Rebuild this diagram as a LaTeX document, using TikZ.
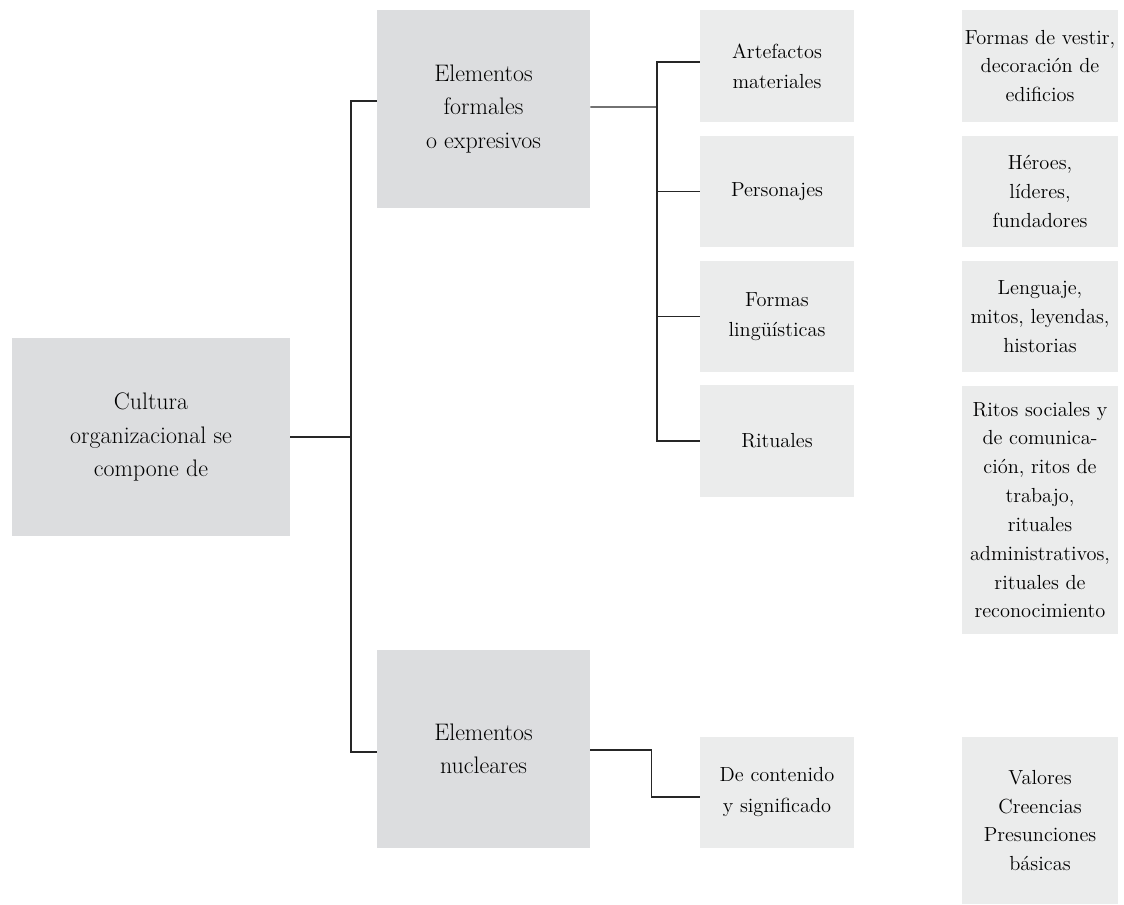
\documentclass[tikz,border=0pt]{standalone}

\definecolor{boxdark}{HTML}{DCDDDF}
\definecolor{boxlight}{HTML}{EBECEC}

\tikzset{
  bigbox/.style={fill=boxdark, align=center, inner sep=2pt,
    font=\fontsize{17}{23.5}\selectfont},
  midbox/.style={fill=boxlight, align=center, inner sep=2pt,
    minimum width=3.85cm, minimum height=2.775cm,
    font=\fontsize{14.5}{21.5}\selectfont},
  sidebox/.style={fill=boxlight, align=center, inner sep=1pt,
    minimum width=3.9cm, font=\fontsize{14.5}{20.5}\selectfont},
  link/.style={draw=black!85, line width=1pt}
}

\begin{document}
\begin{tikzpicture}[x=0.025cm, y=-0.025cm]
      \useasboundingbox (0,0) rectangle (1124,904);
      % main boxes
      \node[bigbox, minimum width=6.95cm, minimum height=4.95cm] (cultura) at (151,437)
        {Cultura\\organizacional se\\compone de};
      \node[bigbox, minimum width=5.325cm, minimum height=4.95cm] (formal) at (483.5,109)
        {Elementos\\formales\\o expresivos};
      \node[bigbox, minimum width=5.325cm, minimum height=4.95cm] (nuclear) at (483.5,749)
        {Elementos\\nucleares};
      % middle column
      \node[midbox] (artefactos) at (777,66) {Artefactos\\materiales};
      \node[midbox] (personajes) at (777,191.5) {Personajes};
      \node[midbox] (formas) at (777,316.5) {Formas\\lingüísticas};
      \node[midbox] (rituales) at (777,441) {Rituales};
      \node[midbox] (contenido) at (777,792) {De contenido\\y significado};
      % right column
      \node[sidebox, minimum height=2.8cm] (vestir) at (1040,66)
        {Formas de vestir,\\decoración de\\edificios};
      \node[sidebox, minimum height=2.775cm] (heroes) at (1040,191.5)
        {Héroes,\\líderes,\\fundadores};
      \node[sidebox, minimum height=2.775cm] (lenguaje) at (1040,316.5)
        {Lenguaje,\\mitos, leyendas,\\historias};
      \node[sidebox, minimum height=6.2cm] (ritos) at (1040,510)
        {Ritos sociales y\\de comunica-\\ción, ritos de\\trabajo,\\rituales\\administrativos,\\rituales de\\reconocimiento};
      \node[sidebox, minimum height=4.175cm] (valores) at (1040,820.5)
        {Valores\\Creencias\\Presunciones\\básicas};
      % connectors
      \coordinate (j1) at (351,437);
      \coordinate (j2) at (657,107);
      \begin{scope}[link]
        \draw (cultura.east) -- (j1);
        \draw ([yshift=0.2cm]formal.west) -| (j1) |- ([yshift=-0.075cm]nuclear.west);
        \draw ([yshift=0.05cm]formal.east) -- (j2);
        \draw ([yshift=0.1cm]artefactos.west) -| (j2) |- (rituales.west);
        \draw (personajes.west) -- (personajes.west -| j2);
        \draw (formas.west) -- (formas.west -| j2);
        \draw ([yshift=-0.025cm]nuclear.east) -- ++(61,0) |- ([yshift=-0.125cm]contenido.west);
      \end{scope}
    \end{tikzpicture}
\end{document}
